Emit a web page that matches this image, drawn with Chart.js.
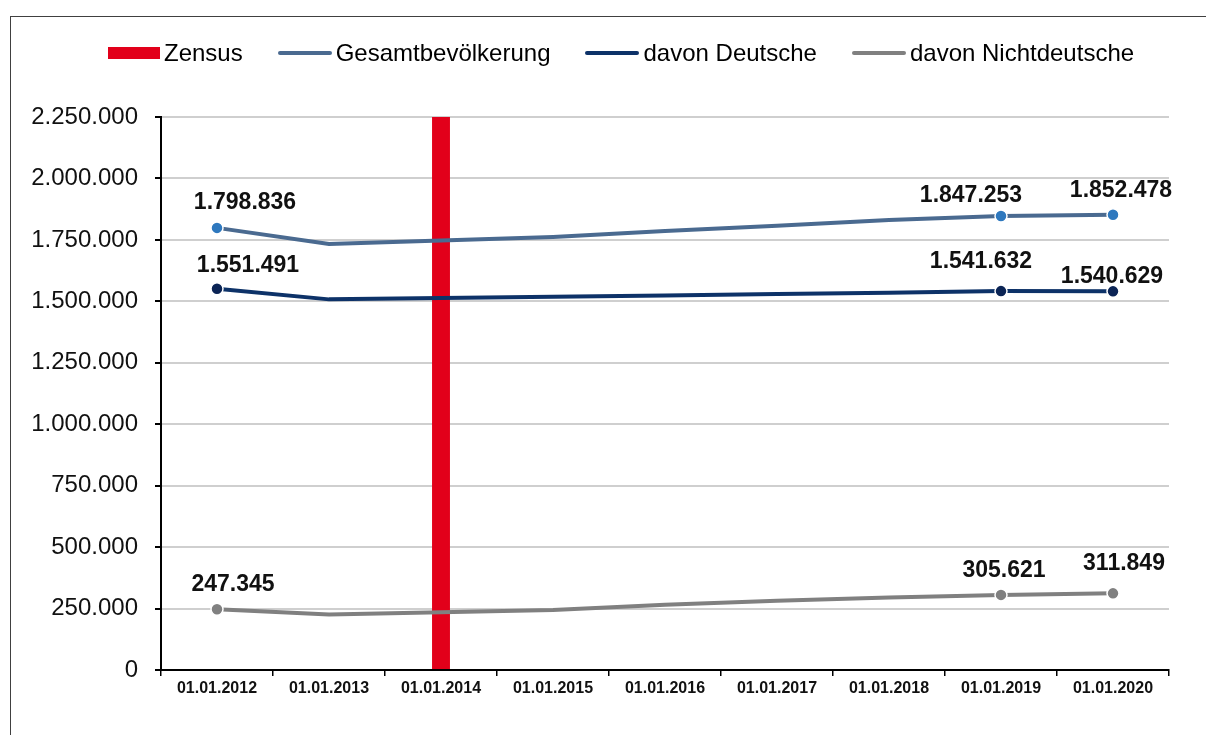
<!DOCTYPE html>
<html lang="de">
<head>
<meta charset="utf-8">
<title>Bevölkerung</title>
<script src="https://cdn.jsdelivr.net/npm/chart.js@4.4.1/dist/chart.umd.min.js"></script>
<style>
  html, body { margin: 0; padding: 0; background: #fff; overflow: hidden; }
  body { width: 1206px; height: 735px; position: relative; font-family: "Liberation Sans", Arial, sans-serif; }
  #frame { position: absolute; left: 10px; top: 16px; width: 1300px; height: 800px; border: 1.5px solid #404040; }
  #wrap { position: absolute; left: 0; top: 0; width: 1206px; height: 735px; }
  #legend { position: absolute; left: 108px; top: 39px; display: flex; align-items: center; font-size: 24px; color: #000; white-space: nowrap; }
  .item { display: flex; align-items: center; margin-right: 35px; }
  .swatch { margin-right: 4px; }
</style>
</head>
<body>
<div id="frame"></div>
<div id="wrap"><canvas id="popChart"></canvas></div>
<div id="legend"></div>

<script>
// categories
const years = ["01.01.2012", "01.01.2013", "01.01.2014", "01.01.2015", "01.01.2016",
  "01.01.2017", "01.01.2018", "01.01.2019", "01.01.2020"];

// series values
const zensus = [null, null, 2250000, null, null, null, null, null, null];
const gesamt = [1798836, 1733000, 1748000, 1762000, 1786000, 1808000, 1831000, 1847253, 1852478];
const deutsche = [1551491, 1508000, 1514000, 1519000, 1524000, 1530000, 1535000, 1541632, 1540629];
const nichtdeutsche = [247345, 226000, 235000, 244000, 265000, 282000, 295000, 305621, 311849];

// y axis ticks
const yMin = 0;
const yMax = 2250000;
const yStep = 250000;

// points that carry a marker and a value label
const labelled = [0, 7, 8];

const RED = "#E2001A";
const FONT = '"Liberation Sans", Arial, sans-serif';

function fmt(v) {
  return String(Math.round(v)).replace(/\B(?=(\d{3})+(?!\d))/g, ".");
}

// label offsets relative to the point, per dataset index
const labelOffsets = {
  1: { 0: [28, -25], 7: [-30, -20], 8: [8, -24] },
  2: { 0: [31, -23], 7: [-20, -29], 8: [-1, -15] },
  3: { 0: [16, -25], 7: [3, -24], 8: [11, -30] },
};

const valueLabels = {
  id: "valueLabels",
  afterDatasetsDraw(chart) {
    const ctx = chart.ctx;
    ctx.save();
    ctx.font = "bold 23px " + FONT;
    ctx.fillStyle = "#111";
    ctx.textAlign = "center";
    ctx.textBaseline = "middle";
    Object.keys(labelOffsets).forEach(function (dsIndex) {
      const meta = chart.getDatasetMeta(dsIndex);
      const values = chart.data.datasets[dsIndex].data;
      labelled.forEach(function (i) {
        const pt = meta.data[i];
        const off = labelOffsets[dsIndex][i];
        ctx.fillText(fmt(values[i]), pt.x + off[0], pt.y + off[1]);
      });
    });
    ctx.restore();
  },
};

function lineSet(label, data, lineColor, pointColor) {
  return {
    type: "line",
    label: label,
    data: data,
    borderColor: lineColor,
    backgroundColor: pointColor,
    borderWidth: 4,
    tension: 0,
    order: 1,
    pointRadius: function (c) { return labelled.includes(c.dataIndex) ? 6 : 0; },
    pointHoverRadius: 6,
    pointBackgroundColor: pointColor,
    pointBorderColor: "#fff",
    pointBorderWidth: 1.5,
  };
}

const datasets = [
  {
    type: "bar",
    label: "Zensus",
    data: zensus,
    backgroundColor: RED,
    borderWidth: 0,
    categoryPercentage: 1,
    barPercentage: 0.16,
    order: 2,
  },
  lineSet("Gesamtbevölkerung", gesamt, "#4A6A90", "#2E78BE"),
  lineSet("davon Deutsche", deutsche, "#0D3268", "#0B2455"),
  lineSet("davon Nichtdeutsche", nichtdeutsche, "#808080", "#808080"),
];

// HTML legend
const legendEl = document.getElementById("legend");
datasets.forEach(function (ds) {
  const item = document.createElement("div");
  item.className = "item";
  const sw = document.createElement("span");
  sw.className = "swatch";
  if (ds.type === "bar") {
    sw.style.cssText = "width:52px;height:12px;background:" + ds.backgroundColor;
  } else {
    sw.style.cssText = "width:54px;height:4px;border-radius:2px;background:" + ds.borderColor;
  }
  const txt = document.createElement("span");
  txt.textContent = ds.label;
  item.appendChild(sw);
  item.appendChild(txt);
  legendEl.appendChild(item);
});

Chart.defaults.font.family = FONT;
Chart.defaults.color = "#000";

new Chart(document.getElementById("popChart"), {
  type: "bar",
  data: { labels: years, datasets: datasets },
  options: {
    responsive: true,
    maintainAspectRatio: false,
    animation: false,
    layout: { padding: { top: 117, right: 37, bottom: 0, left: 0 } },
    plugins: {
      legend: { display: false },
      tooltip: { enabled: false },
    },
    scales: {
      x: {
        offset: true,
        grid: {
          offset: true,
          drawOnChartArea: false,
          drawTicks: true,
          tickLength: 6,
          color: "#000",
          lineWidth: 1.5,
        },
        border: { color: "#000", width: 2 },
        ticks: {
          font: { size: 16, weight: "bold" },
          color: "#111",
          padding: 3,
          maxRotation: 0,
          autoSkip: false,
        },
        afterFit: function (scale) { scale.height = 65; },
      },
      y: {
        min: yMin,
        max: yMax,
        grid: {
          color: "#CFCFCF",
          lineWidth: 2,
          tickColor: "#000",
          tickLength: 6,
        },
        border: { color: "#000", width: 2 },
        ticks: {
          stepSize: yStep,
          font: { size: 24 },
          color: "#111",
          padding: 17,
          callback: function (v) { return fmt(v); },
        },
        afterFit: function (scale) { scale.width = 161; },
      },
    },
  },
  plugins: [valueLabels],
});
</script>
</body>
</html>
